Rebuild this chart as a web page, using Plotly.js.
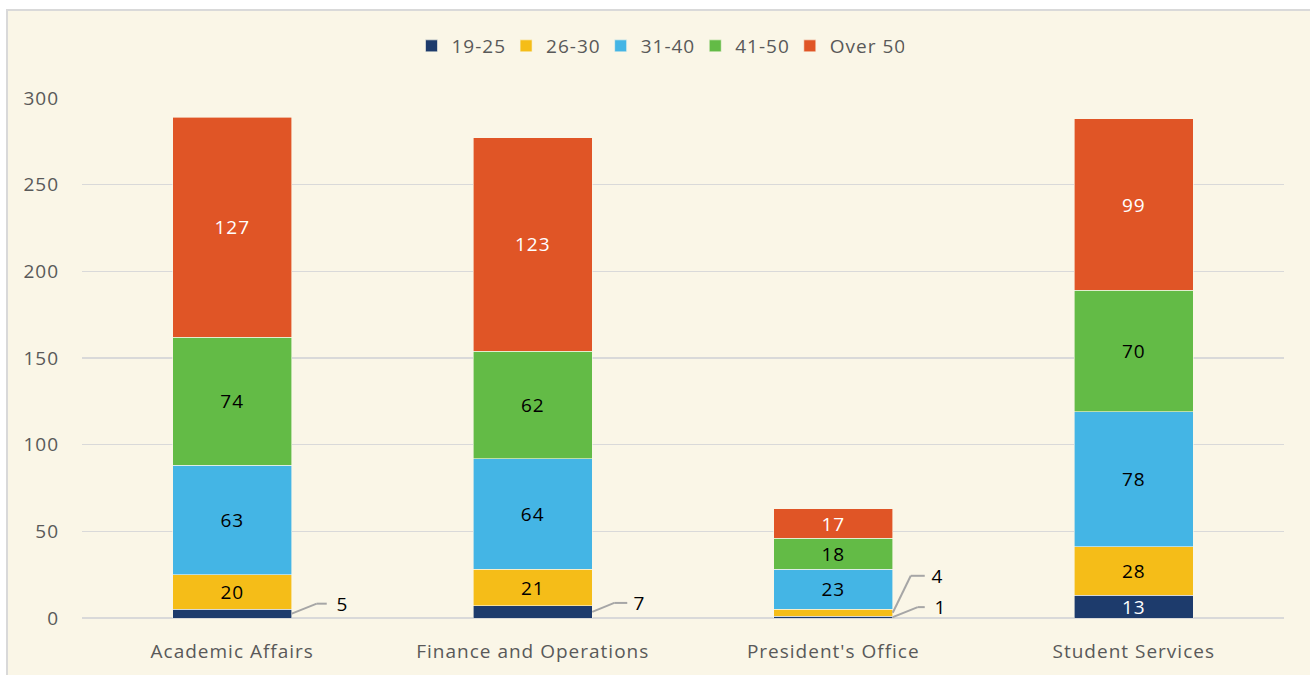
<!DOCTYPE html>
<html>
<head>
<meta charset="utf-8">
<script src="https://cdn.plot.ly/plotly-3.0.1.min.js"></script>
<style>
  html, body { margin:0; padding:0; background:#ffffff; width:1310px; height:675px; overflow:hidden; }
  #frame { position:absolute; left:6px; top:9px; width:1320px; height:680px; background:#faf6e7; border-left:2px solid #d9d9d9; border-top:2px solid #d9d9d9; }
  #chart { position:absolute; left:0; top:0; width:1310px; height:675px; }
  #chart text { letter-spacing: 1px; }
</style>
</head>
<body>
<div id="frame"></div>
<div id="chart"></div>
<script>
const categories = ["Academic Affairs", "Finance and Operations", "President's Office", "Student Services"];
const seriesNames = ["19-25", "26-30", "31-40", "41-50", "Over 50"];
const age19_25 = [5, 7, 1, 13];
const age26_30 = [20, 21, 4, 28];
const age31_40 = [63, 64, 23, 78];
const age41_50 = [74, 62, 18, 70];
const over50   = [127, 123, 17, 99];
const yTicks = [0, 50, 100, 150, 200, 250, 300];

const series = [age19_25, age26_30, age31_40, age41_50, over50];
const colors = ["#1d3b6c", "#f5bd18", "#44b5e5", "#63bb46", "#e05526"];
const textColors = ["#ffffff", "#000000", "#000000", "#000000", "#ffffff"];
const xIdx = categories.map((c, i) => i);
const FONT = '"Open Sans", Lato, sans-serif';
const FS = 19;

const W = 1310, H = 675;
const margin = {l: 82, r: 26, t: 98, b: 57};
const plotW = W - margin.l - margin.r;
const plotH = H - margin.t - margin.b;
const bargap = 0.604;
const half = (1 - bargap) / 2;
const yMax = 300;
const pxX = plotW / categories.length;  // px per category unit
const pxY = plotH / yMax;               // px per value unit
const minInside = 10;

const traces = series.map((vals, s) => ({
  type: 'bar',
  name: seriesNames[s],
  x: xIdx,
  y: vals,
  marker: {color: colors[s], line: {color: '#faf6e7', width: 0.6}},
  text: vals.map(v => v >= minInside ? String(v) : ''),
  textposition: 'inside',
  insidetextanchor: 'middle',
  textangle: 0,
  constraintext: 'none',
  textfont: {family: FONT, size: FS, color: textColors[s]},
  hoverinfo: 'name+y'
}));

// callouts for small segments: offsets of label from segment midpoint (px)
const calloutStyle = {
  "0-0": {rise: 10, elbow: 25, end: 35, text: 43},
  "1-0": {rise: 9, elbow: 22, end: 35, text: 40},
  "2-0": {rise: 10, elbow: 25, end: 32, text: 40},
  "2-1": {rise: 37, elbow: 18, end: 32, text: 37}
};
const shapes = [];
const annotations = [];
categories.forEach((c, i) => {
  let base = 0;
  series.forEach((vals, s) => {
    const v = vals[i];
    const mid = base + v / 2;
    base += v;
    if (v >= minInside) return;
    const st = calloutStyle[i + "-" + s] || {rise: 10, elbow: 25, end: 35, text: 43};
    const x0 = i + half;
    const yLab = mid + st.rise / pxY;
    shapes.push({type: 'line', xref: 'x', yref: 'y', x0: x0, y0: mid, x1: x0 + st.elbow / pxX, y1: yLab,
                 line: {color: '#a6a6a6', width: 2}});
    shapes.push({type: 'line', xref: 'x', yref: 'y', x0: x0 + st.elbow / pxX, y0: yLab, x1: x0 + st.end / pxX, y1: yLab,
                 line: {color: '#a6a6a6', width: 2}});
    annotations.push({xref: 'x', yref: 'y', x: x0 + st.text / pxX, y: yLab, text: String(v), showarrow: false,
                      xanchor: 'left', yanchor: 'middle',
                      font: {family: FONT, size: FS, color: '#000000'}});
  });
});

const layout = {
  width: W, height: H,
  margin: margin,
  paper_bgcolor: 'rgba(0,0,0,0)',
  plot_bgcolor: 'rgba(0,0,0,0)',
  barmode: 'stack',
  bargap: bargap,
  font: {family: FONT, size: FS, color: '#595959'},
  showlegend: true,
  legend: {orientation: 'h', x: 0.5 - 25 / plotW, xanchor: 'center', y: 1 + (98 - 46) / plotH, yanchor: 'middle',
           font: {size: FS, color: '#595959'}, traceorder: 'normal', bgcolor: 'rgba(0,0,0,0)'},
  uniformtext: {mode: 'show', minsize: FS},
  xaxis: {range: [-0.5, categories.length - 0.5], tickvals: xIdx, ticktext: categories,
          showgrid: false, zeroline: false, showline: false, ticks: '', ticklabelstandoff: 20,
          tickfont: {size: FS, color: '#595959'}, fixedrange: true},
  yaxis: {range: [0, yMax], tickvals: yTicks, showgrid: true, gridcolor: '#d9d9d9', gridwidth: 1.5,
          zeroline: true, zerolinecolor: '#d9d9d9', zerolinewidth: 1.5, showline: false, ticks: '',
          ticklabelstandoff: 22, tickfont: {size: FS, color: '#595959'}, fixedrange: true},
  shapes: shapes,
  annotations: annotations
};

Plotly.newPlot('chart', traces, layout, {displayModeBar: false, staticPlot: true});
</script>
</body>
</html>
